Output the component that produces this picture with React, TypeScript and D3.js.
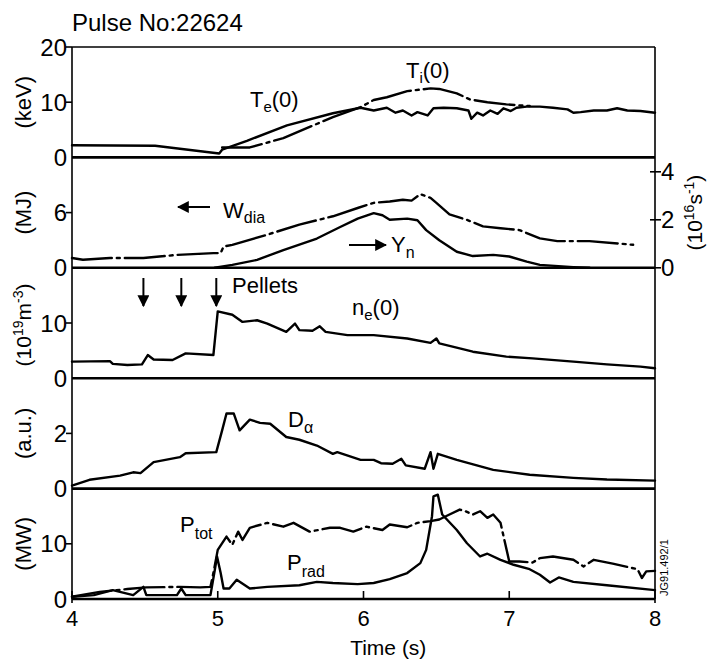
import * as d3 from "d3";

type Pt = [number, number];

// time (s), value
const teData: Pt[] = [
  [4.0, 2.2], [4.57, 2.1], [5.01, 0.7], [5.03, 1.4], [5.2, 3.0], [5.475, 5.8], [5.79, 8.0],
  [5.98, 9.0], [6.07, 8.5], [6.16, 9.0], [6.22, 8.1], [6.27, 8.5], [6.33, 7.6], [6.37, 8.2],
  [6.44, 7.6], [6.48, 8.9], [6.55, 9.0], [6.64, 8.9], [6.72, 8.5], [6.74, 7.0], [6.78, 8.1],
  [6.82, 7.6], [6.87, 8.5], [6.92, 7.9], [6.96, 8.9], [7.01, 8.4], [7.05, 9.0], [7.12, 9.2],
  [7.21, 9.2], [7.3, 9.0], [7.4, 8.7], [7.44, 8.1], [7.49, 8.2], [7.58, 8.5], [7.67, 8.5],
  [7.74, 8.9], [7.81, 8.5], [7.9, 8.4], [8.0, 8.1],
];
const tiData: Pt[] = [
  [5.03, 1.8], [5.22, 1.8], [5.45, 3.5], [5.79, 7.3], [5.98, 9.1], [6.07, 10.4], [6.16, 10.9],
  [6.3, 12.0], [6.46, 12.5], [6.52, 12.4], [6.64, 11.6], [6.73, 10.5], [6.85, 10.0],
  [6.98, 9.6], [7.14, 9.3],
];
const wdiaData: Pt[] = [
  [4.0, 1.06], [4.075, 0.87], [4.26, 1.06], [4.49, 1.06], [4.72, 1.4], [4.97, 1.6], [5.02, 1.6],
  [5.04, 2.3], [5.1, 2.5], [5.34, 3.6], [5.56, 4.7], [5.79, 5.6], [5.96, 6.5], [6.07, 7.06],
  [6.18, 7.2], [6.27, 7.4], [6.33, 7.3], [6.39, 8.0], [6.46, 7.6], [6.5, 7.06], [6.59, 5.8],
  [6.71, 5.2], [6.82, 4.5], [6.94, 4.3], [7.07, 4.1], [7.21, 3.2], [7.33, 2.9], [7.55, 2.9],
  [7.85, 2.5],
];
const ynData: Pt[] = [
  [4.98, 0], [5.1, 0.12], [5.27, 0.33], [5.45, 0.74], [5.68, 1.22], [5.84, 1.7], [5.96, 2.05],
  [6.07, 2.28], [6.13, 2.19], [6.18, 2.0], [6.3, 2.05], [6.37, 1.98], [6.43, 1.57], [6.52, 1.15],
  [6.64, 0.67], [6.75, 0.49], [6.89, 0.54], [7.0, 0.47], [7.12, 0.26], [7.21, 0.12],
  [7.44, 0.03], [7.55, 0],
];
const neData: Pt[] = [
  [4.0, 3.0], [4.26, 3.1], [4.28, 2.6], [4.38, 2.4], [4.48, 2.5], [4.52, 4.2], [4.56, 3.4],
  [4.69, 3.3], [4.78, 4.5], [4.97, 4.2], [5.0, 12.1], [5.1, 11.5], [5.17, 10.2], [5.27, 10.5],
  [5.34, 9.9], [5.47, 8.4], [5.53, 9.9], [5.56, 8.7], [5.65, 8.6], [5.7, 9.4], [5.74, 8.4],
  [5.89, 7.8], [6.07, 7.8], [6.3, 7.2], [6.46, 6.4], [6.5, 7.2], [6.52, 6.3], [6.66, 5.4],
  [6.75, 4.8], [6.98, 3.9], [7.16, 3.6], [7.44, 3.0], [7.67, 2.5], [7.9, 2.1], [8.0, 1.8],
];
const daData: Pt[] = [
  [4.0, 0.11], [4.12, 0.32], [4.33, 0.47], [4.42, 0.59], [4.47, 0.56], [4.56, 0.96],
  [4.74, 1.14], [4.78, 1.28], [4.99, 1.32], [5.03, 2.11], [5.06, 2.72], [5.11, 2.72],
  [5.15, 2.11], [5.22, 2.5], [5.29, 2.38], [5.36, 2.35], [5.47, 1.87], [5.56, 1.77],
  [5.68, 1.56], [5.79, 1.26], [5.82, 1.32], [5.98, 1.04], [6.07, 1.04], [6.12, 0.92],
  [6.2, 0.9], [6.26, 1.08], [6.29, 0.84], [6.42, 0.72], [6.46, 1.32], [6.48, 0.72],
  [6.51, 1.26], [6.64, 1.04], [6.89, 0.68], [7.14, 0.5], [7.44, 0.39], [7.67, 0.33], [8.0, 0.29],
];
const ptotData: Pt[] = [
  [4.0, 0.4], [4.19, 1.3], [4.38, 1.8], [4.51, 2.1], [4.74, 2.2], [4.88, 2.1], [4.95, 2.2],
  [4.97, 4.7], [5.0, 8.9], [5.06, 11.3], [5.1, 9.8], [5.14, 12.2], [5.17, 10.7], [5.22, 12.9],
  [5.34, 13.8], [5.45, 13.1], [5.52, 13.8], [5.63, 12.2], [5.77, 12.9], [5.84, 12.9],
  [5.93, 12.2], [6.02, 13.1], [6.13, 12.5], [6.18, 13.5], [6.3, 13.0], [6.37, 13.8],
  [6.46, 14.1], [6.52, 14.4], [6.59, 15.3], [6.66, 16.2], [6.7, 15.9], [6.75, 15.3],
  [6.8, 15.9], [6.85, 14.7], [6.89, 15.3], [6.94, 13.8], [7.0, 6.8], [7.07, 6.8], [7.16, 6.6],
  [7.21, 7.4], [7.3, 7.7], [7.44, 7.1], [7.51, 5.9], [7.58, 7.1], [7.71, 6.4], [7.88, 5.4],
  [7.91, 3.8], [7.94, 5.0], [8.0, 5.1],
];
const pradData: Pt[] = [
  [4.0, 0.4], [4.15, 0.7], [4.28, 1.6], [4.42, 0.7], [4.49, 2.2], [4.51, 0.7], [4.72, 0.7],
  [4.75, 1.9], [4.78, 0.7], [4.95, 0.7], [4.98, 5.3], [4.995, 7.7], [5.02, 4.7], [5.04, 1.9],
  [5.08, 1.9], [5.13, 3.5], [5.22, 1.9], [5.34, 2.2], [5.56, 2.5], [5.68, 3.1], [5.79, 2.9],
  [5.96, 2.7], [6.07, 2.9], [6.18, 3.6], [6.3, 4.7], [6.39, 6.5], [6.43, 8.9], [6.47, 15.0],
  [6.48, 18.6], [6.51, 18.9], [6.54, 15.3], [6.64, 12.5], [6.71, 10.1], [6.8, 7.7],
  [6.85, 8.2], [6.94, 7.1], [7.03, 6.2], [7.14, 5.4], [7.21, 4.4], [7.28, 3.0], [7.34, 3.9],
  [7.44, 3.1], [7.67, 2.5], [8.0, 1.6],
];

const pelletTimes = [4.49, 4.75, 4.99];
const xTicks = [4, 5, 6, 7, 8];
const leftTicks = [[0, 10, 20], [0, 6], [0, 10], [0, 2], [0, 10]];
const rightTicks = [0, 2, 4];
const yMax = [20, 12, 20, 4, 20];
const unitLabels = ["(keV)", "(MJ)", "", "(a.u.)", "(MW)"];

const FONT = "'Liberation Sans', Arial, Helvetica, sans-serif";
const DASHDOT = "40 5 3 5";

export default function App() {
  const width = 707;
  const height = 661;
  const left = 72;
  const right = 655;
  const top = 47;
  const bottom = 599;
  const panelH = (bottom - top) / 5;

  const x = d3.scaleLinear().domain([4, 8]).range([left, right]);
  const ys = yMax.map((m, i) =>
    d3.scaleLinear().domain([0, m]).range([top + (i + 1) * panelH, top + i * panelH])
  );
  const yRight = d3.scaleLinear().domain([0, 4.6]).range([top + 2 * panelH, top + panelH]);

  const mk = (y: d3.ScaleLinear<number, number>) =>
    d3.line<Pt>().x((d) => x(d[0])).y((d) => y(d[1]));

  const lineStyle = {
    fill: "none",
    stroke: "#000",
    strokeWidth: 2.4,
    strokeLinejoin: "round" as const,
    strokeLinecap: "round" as const,
  };

  return (
    <svg
      width={width}
      height={height}
      style={{ position: "absolute", left: 0, top: 0, display: "block", fontFamily: FONT, background: "#fff" }}
    >
      <rect width={width} height={height} fill="#fff" />
      <text x={left} y={31} fontSize={24}>Pulse No:22624</text>

      {/* frame */}
      <line x1={left} x2={right} y1={top} y2={top} stroke="#000" strokeWidth={1.6} />
      <line x1={left} x2={left} y1={top} y2={bottom + 4} stroke="#000" strokeWidth={1.6} />
      <line x1={right} x2={right} y1={top} y2={bottom + 4} stroke="#000" strokeWidth={1.6} />
      {ys.map((y, i) => (
        <line key={"b" + i} x1={left} x2={right} y1={y(0)} y2={y(0)} stroke="#000" strokeWidth={2.6} />
      ))}

      {/* left ticks */}
      {ys.map((y, i) =>
        leftTicks[i].map((v) => (
          <g key={`lt${i}-${v}`}>
            {v !== 0 && <line x1={left - 6} x2={left} y1={y(v)} y2={y(v)} stroke="#000" strokeWidth={1.6} />}
            <text x={left - 5} y={y(v)} dy="0.36em" textAnchor="end" fontSize={24}>{v}</text>
          </g>
        ))
      )}

      {/* right axis, panel 2 */}
      {rightTicks.map((v) => (
        <g key={"rt" + v}>
          <line x1={right - 5} x2={right + 6} y1={yRight(v)} y2={yRight(v)} stroke="#000" strokeWidth={1.6} />
          <text x={right + 6} y={yRight(v)} dy="0.36em" fontSize={24}>{v}</text>
        </g>
      ))}
      <text transform={`translate(702,${yRight(2.3)}) rotate(-90)`} textAnchor="middle" fontSize={21}>
        (10<tspan dy={-8} fontSize={14}>16</tspan><tspan dy={8}>s</tspan><tspan dy={-8} fontSize={14}>-1</tspan><tspan dy={8}>)</tspan>
      </text>

      {/* bottom ticks */}
      {xTicks.map((t) => (
        <g key={"xt" + t}>
          <line x1={x(t)} x2={x(t)} y1={bottom} y2={bottom - 8} stroke="#000" strokeWidth={1.6} />
          <text x={x(t)} y={626} textAnchor="middle" fontSize={22}>{t}</text>
        </g>
      ))}
      <text x={x(6.17)} y={655} textAnchor="middle" fontSize={21}>Time (s)</text>

      {/* unit labels */}
      {unitLabels.map((u, i) => {
        const cy = top + (i + 0.5) * panelH;
        const cx = 23;
        if (i === 2) {
          return (
            <text key="u2" transform={`translate(${cx + 8},${cy + 2}) rotate(-90)`} textAnchor="middle" fontSize={21}>
              (10<tspan dy={-8} fontSize={14}>19</tspan><tspan dy={8}>m</tspan><tspan dy={-8} fontSize={14}>-3</tspan><tspan dy={8}>)</tspan>
            </text>
          );
        }
        return (
          <text key={"u" + i} transform={`translate(${cx},${cy}) rotate(-90)`} textAnchor="middle" dy="0.36em" fontSize={22}>
            {u}
          </text>
        );
      })}

      {/* series */}
      <path d={mk(ys[0])(teData) ?? ""} {...lineStyle} />
      <path d={mk(ys[0])(tiData) ?? ""} {...lineStyle} strokeDasharray={DASHDOT} />
      <path d={mk(ys[1])(wdiaData) ?? ""} {...lineStyle} strokeDasharray={DASHDOT} />
      <path d={mk(yRight)(ynData) ?? ""} {...lineStyle} />
      <path d={mk(ys[2])(neData) ?? ""} {...lineStyle} />
      <path d={mk(ys[3])(daData) ?? ""} {...lineStyle} />
      <path d={mk(ys[4])(ptotData) ?? ""} {...lineStyle} strokeDasharray={DASHDOT} />
      <path d={mk(ys[4])(pradData) ?? ""} {...lineStyle} />

      {/* pellet arrows */}
      <defs>
        <marker id="ah" viewBox="0 0 10 10" refX="9" refY="5" markerWidth="6" markerHeight="6" orient="auto-start-reverse">
          <path d="M0,0 L10,5 L0,10 z" fill="#000" />
        </marker>
      </defs>
      {pelletTimes.map((t) => (
        <line key={"p" + t} x1={x(t)} x2={x(t)} y1={278} y2={306} stroke="#000" strokeWidth={2} markerEnd="url(#ah)" />
      ))}
      <text x={232} y={293} fontSize={22}>Pellets</text>

      {/* annotations */}
      <text x={250} y={107} fontSize={22}>T<tspan dy={5} fontSize={15}>e</tspan><tspan dy={-5}>(0)</tspan></text>
      <text x={406} y={78} fontSize={22}>T<tspan dy={5} fontSize={15}>i</tspan><tspan dy={-5}>(0)</tspan></text>

      <line x1={210} x2={178} y1={207} y2={207} stroke="#000" strokeWidth={2} markerEnd="url(#ah)" />
      <text x={223} y={218} fontSize={22}>W<tspan dy={5} fontSize={16}>dia</tspan></text>

      <line x1={349} x2={386} y1={245} y2={245} stroke="#000" strokeWidth={2} markerEnd="url(#ah)" />
      <text x={391} y={252} fontSize={22}>Y<tspan dy={6} fontSize={16}>n</tspan></text>

      <text x={352} y={315} fontSize={22}>n<tspan dy={5} fontSize={15}>e</tspan><tspan dy={-5}>(0)</tspan></text>
      <text x={288} y={427} fontSize={22}>D<tspan dy={6} fontSize={16}>α</tspan></text>

      <text x={180} y={532} fontSize={22}>P<tspan dy={7} fontSize={16}>tot</tspan></text>
      <text x={287} y={570} fontSize={22}>P<tspan dy={7} fontSize={16}>rad</tspan></text>

      <text transform="translate(668,596) rotate(-90)" fontSize={11}>JG91.492/1</text>
    </svg>
  );
}
